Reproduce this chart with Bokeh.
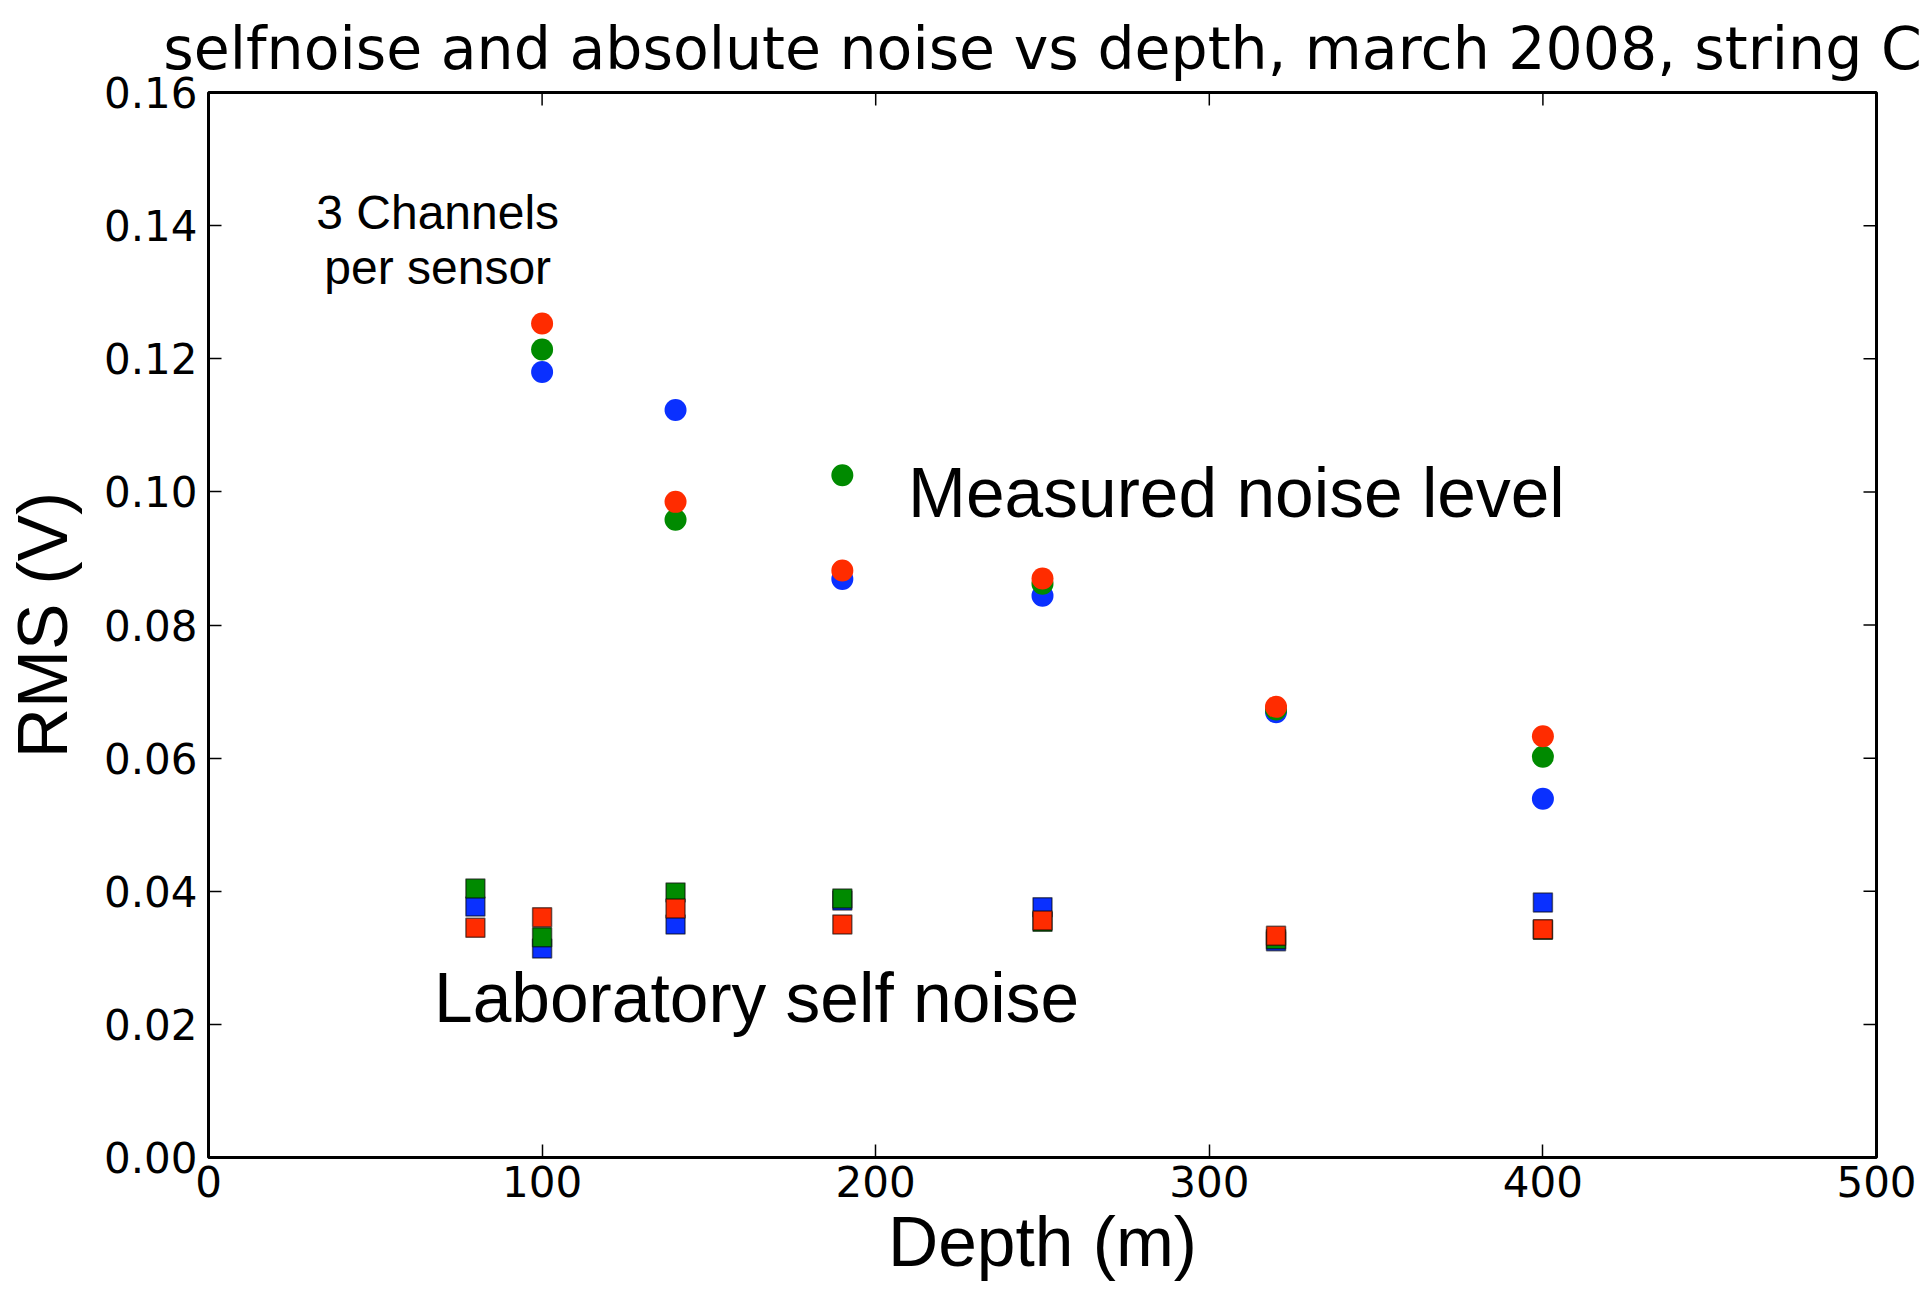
from bokeh.plotting import figure
from bokeh.models import LinearAxis, FixedTicker, PrintfTickFormatter, Label, Range1d
from bokeh.embed import file_html
from bokeh.resources import INLINE

# Measured noise level (circles), depth in m, RMS in V
depth_meas = [100, 140, 190, 250, 320, 400]
meas_blue = [0.1180, 0.1123, 0.0869, 0.0844, 0.0669, 0.0539]
meas_green = [0.1214, 0.0958, 0.1025, 0.0862, 0.0673, 0.0602]
meas_red = [0.1253, 0.0985, 0.0882, 0.0870, 0.0677, 0.0633]

# Laboratory self noise (squares)
depth_lab = [80, 100, 140, 190, 250, 320, 400]
lab_blue = [0.0377, 0.0314, 0.0350, 0.0386, 0.0376, 0.0325, 0.0383]
lab_green = [0.0404, 0.0331, 0.0398, 0.0389, 0.0354, 0.0328, 0.0342]
lab_red = [0.0345, 0.0361, 0.0374, 0.0350, 0.0356, 0.0333, 0.0343]

x_ticks = [0, 100, 200, 300, 400, 500]
y_ticks = [0.00, 0.02, 0.04, 0.06, 0.08, 0.10, 0.12, 0.14, 0.16]

BLUE = "#0a30ff"
GREEN = "#008a00"
RED = "#ff2c00"

X0, X1 = 0, 500
Y0, Y1 = 0.0, 0.16
FW, FH = 1668, 1065

p = figure(frame_width=FW, frame_height=FH,
           min_border_left=208, min_border_right=56,
           min_border_top=92, min_border_bottom=137,
           x_range=Range1d(X0, X1), y_range=Range1d(Y0, Y1),
           output_backend="svg", toolbar_location=None,
           x_axis_location=None, y_axis_location=None)

p.title.text = "selfnoise and absolute noise vs depth, march 2008, string C"
p.title.text_font = "DejaVu Sans"
p.title.text_font_size = "58.5px"
p.title.text_font_style = "normal"
p.title.text_color = "black"
p.title.align = "center"
p.title.offset = 0
p.title.standoff = 20

p.grid.visible = False
p.background_fill_color = "white"
p.border_fill_color = "white"
p.outline_line_color = "black"
p.outline_line_width = 3

def make_axis():
    ax = LinearAxis()
    ax.axis_line_color = None
    ax.major_tick_in = 13
    ax.major_tick_out = 0
    ax.major_tick_line_width = 1.5
    ax.major_tick_line_color = "black"
    ax.minor_tick_line_color = None
    ax.major_label_text_font = "DejaVu Sans"
    ax.major_label_text_font_size = "42px"
    ax.major_label_text_color = "black"
    return ax

xb = make_axis()
xb.ticker = FixedTicker(ticks=x_ticks)
xb.major_label_standoff = 8
xb.axis_label = "Depth (m)"
xb.axis_label_text_font = "Liberation Sans"
xb.axis_label_text_font_size = "69.5px"
xb.axis_label_text_font_style = "normal"
xb.axis_label_text_color = "black"
xb.axis_label_standoff = 3
p.add_layout(xb, "below")

yl = make_axis()
yl.ticker = FixedTicker(ticks=y_ticks)
yl.formatter = PrintfTickFormatter(format="%.2f")
yl.major_label_standoff = 11
yl.axis_label = "RMS (V)"
yl.axis_label_text_font = "Liberation Sans"
yl.axis_label_text_font_size = "69.5px"
yl.axis_label_text_font_style = "normal"
yl.axis_label_text_color = "black"
yl.axis_label_standoff = 19
p.add_layout(yl, "left")

# inward ticks on top and right edges of the frame
tick_len_px = 13
dy = tick_len_px * (Y1 - Y0) / FH
dx = tick_len_px * (X1 - X0) / FW
p.segment(x0=x_ticks, y0=[Y1] * len(x_ticks), x1=x_ticks, y1=[Y1 - dy] * len(x_ticks),
          line_color="black", line_width=1.5)
p.segment(x0=[X1] * len(y_ticks), y0=y_ticks, x1=[X1 - dx] * len(y_ticks), y1=y_ticks,
          line_color="black", line_width=1.5)

# Laboratory self noise squares
for ys, c in [(lab_blue, BLUE), (lab_green, GREEN), (lab_red, RED)]:
    p.scatter(depth_lab, ys, marker="square", size=19, fill_color=c,
              line_color="black", line_alpha=0.55, line_width=1.5)

# Measured noise circles
for ys, c in [(meas_blue, BLUE), (meas_green, GREEN), (meas_red, RED)]:
    p.scatter(depth_meas, ys, marker="circle", size=22, fill_color=c,
              line_color=None)

p.add_layout(Label(x=209.7, y=0.0998, text="Measured noise level",
                   text_font="Liberation Sans", text_font_size="69.5px",
                   text_baseline="middle", text_align="left", text_color="black"))
p.add_layout(Label(x=67.6, y=0.0239, text="Laboratory self noise",
                   text_font="Liberation Sans", text_font_size="69.5px",
                   text_baseline="middle", text_align="left", text_color="black"))
p.add_layout(Label(x=68.7, y=0.1420, text="3 Channels",
                   text_font="Liberation Sans", text_font_size="48px",
                   text_baseline="middle", text_align="center", text_color="black"))
p.add_layout(Label(x=68.7, y=0.1337, text="per sensor",
                   text_font="Liberation Sans", text_font_size="48px",
                   text_baseline="middle", text_align="center", text_color="black"))

open("out.html", "w").write(file_html(p, INLINE))
